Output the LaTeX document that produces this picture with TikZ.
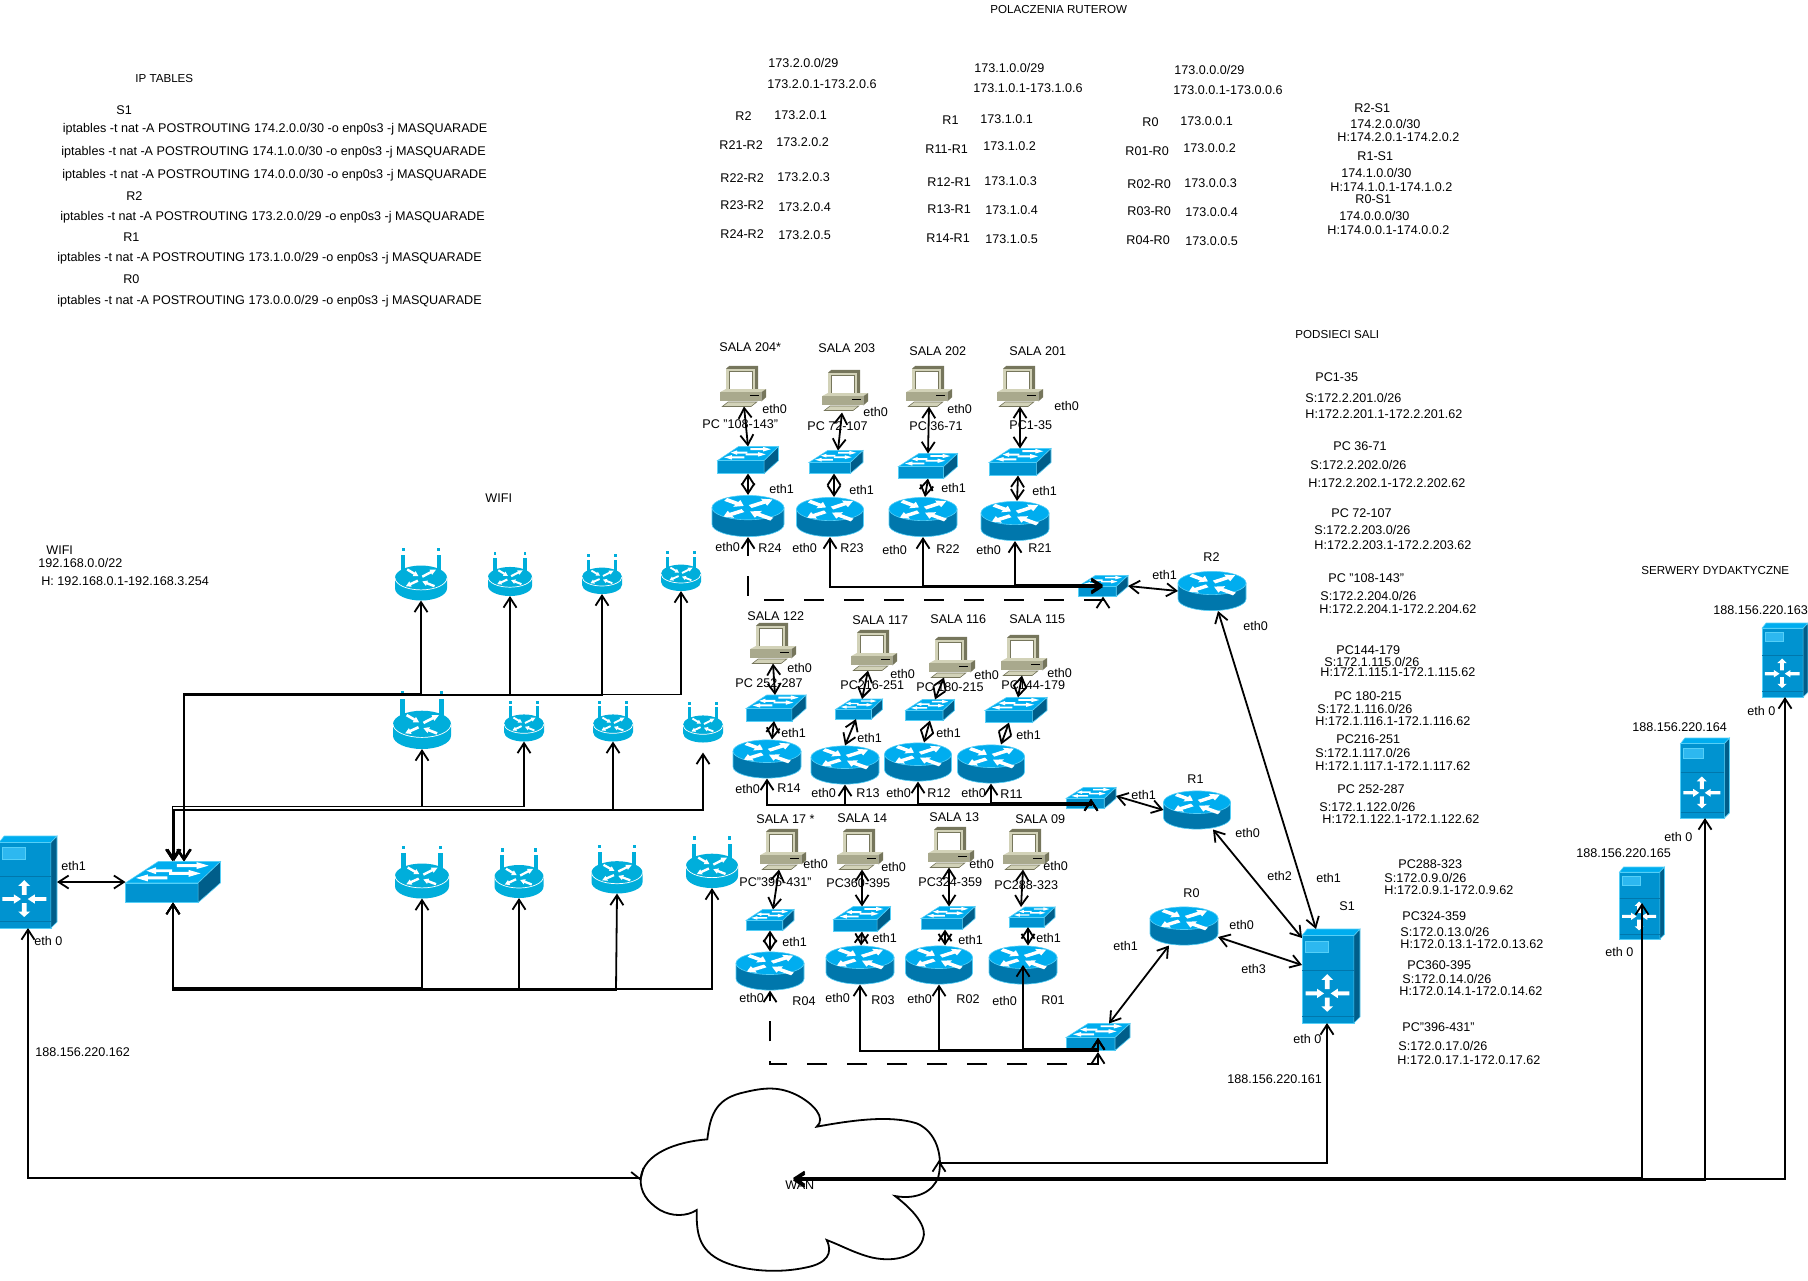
\documentclass[tikz,border=0pt]{standalone}
\usepackage{fontspec}
\setmainfont{Liberation Sans}
\usetikzlibrary{arrows.meta}
\definecolor{rtop}{HTML}{00ADEF}
\definecolor{rside}{HTML}{0077AC}
\definecolor{redge}{HTML}{55CFF7}
\definecolor{wblue}{HTML}{00AEDB}
\definecolor{sfront}{HTML}{0093D0}
\definecolor{sside}{HTML}{005E8A}
\definecolor{spanel}{HTML}{2DB8F0}
\definecolor{pclight}{HTML}{D2D2B8}
\definecolor{pcmid}{HTML}{A9A98D}
\definecolor{pcdark}{HTML}{76765C}
\tikzset{
    >={Straight Barb[length=5pt,width=6.5pt]},
    lk/.style={line width=0.9pt},
    busdash/.style={line width=0.9pt,dash pattern=on 10pt off 10pt},
    devbox/.style={inner sep=0pt,outer sep=0pt},
    txt/.style={anchor=west,inner sep=0pt,font=\fontsize{6.3}{7}\selectfont,text height=4.5pt,text depth=0pt},
    captxt/.style={txt,font=\fontsize{5.8}{7}\selectfont},
}
\newcommand{\icarrow}[5]{%
    \pgfmathsetmacro\anga{atan2(-((#4)-(#2)),(#3)-(#1))}%
    \pgfmathsetmacro\lena{veclen((#3)-(#1),(#4)-(#2))}%
    \pgfmathsetmacro\shaft{0.42*#5}%
    \fill[white,shift={(#1,#2)},rotate=\anga](0,-\shaft)--(0.62*\lena,-\shaft)--(0.62*\lena,-#5)--(\lena,0)--(0.62*\lena,#5)--(0.62*\lena,\shaft)--(0,\shaft)--cycle;}
% name, x, y, width, height
\newcommand{\router}[5]{%
    \node[devbox,minimum width=#4*0.5pt,minimum height=#5*0.5pt](#1)at(#2,#3){};
    \begin{scope}[shift={(#2,#3)},xscale=#4/2,yscale=#5/2]
    \filldraw[rside,draw=redge,line width=0.3pt](-1,-0.4)--(-1,0.4)..controls(-1,0.72)and(-0.55,0.98)..(0,0.98)..controls(0.55,0.98)and(1,0.72)..(1,0.4)--(1,-0.4)--cycle;
    \filldraw[rtop,draw=redge,line width=0.3pt](0,-0.4)ellipse[x radius=1,y radius=0.58];
    \icarrow{0.06}{-0.45}{0.68}{-0.79}{0.19}
    \icarrow{-0.14}{-0.26}{-0.68}{0.03}{0.19}
    \icarrow{0.66}{0.15}{0.06}{-0.22}{0.19}
    \icarrow{-0.62}{-0.79}{-0.12}{-0.48}{0.19}
    \end{scope}}
\newcommand{\wifi}[5]{%
    \node[devbox,minimum width=#4*0.5pt,minimum height=#5*0.5pt](#1)at(#2,#3){};
    \begin{scope}[shift={(#2,#3)},xscale=#4/2,yscale=#5/2]
    \fill[wblue](-0.76,-0.71)rectangle(-0.6,-0.15);
    \fill[wblue](0.6,-0.71)rectangle(0.76,-0.15);
    \fill[wblue](-0.74,-1)rectangle(-0.62,-0.85);
    \fill[wblue](0.62,-1)rectangle(0.74,-0.85);
    \fill[wblue](-1,0.14)--(-1,0.54)..controls(-1,0.8)and(-0.55,1)..(0,1)..controls(0.55,1)and(1,0.8)..(1,0.54)--(1,0.14)--cycle;
    \fill[wblue](0,0.14)ellipse[x radius=1,y radius=0.46];
    \draw[white,line width=0.35pt](-1,0.14)..controls(-1,0.4)and(-0.55,0.6)..(0,0.6)..controls(0.55,0.6)and(1,0.4)..(1,0.14);
    \icarrow{0.05}{0.1}{0.58}{-0.17}{0.11}
    \icarrow{-0.12}{0.25}{-0.58}{0.46}{0.11}
    \icarrow{0.52}{0.46}{0.05}{0.28}{0.11}
    \icarrow{-0.53}{-0.17}{-0.1}{0.08}{0.11}
    \end{scope}}
\newcommand{\switchb}[5]{%
    \node[devbox,minimum width=#4*0.5pt,minimum height=#5*0.5pt](#1)at(#2,#3){};
    \begin{scope}[shift={(#2,#3)},xscale=#4/2,yscale=#5/2]
    \filldraw[rtop,draw=redge,line width=0.3pt](-1,0.04)--(-0.31,-1)--(1,-1)--(0.53,0.04)--cycle;
    \filldraw[sfront,draw=redge,line width=0.3pt](-1,0.04)rectangle(0.53,1);
    \filldraw[sside,draw=redge,line width=0.3pt](0.53,0.04)--(1,-1)--(1,0.04)--(0.53,1)--cycle;
    \icarrow{0.08}{-0.8}{0.75}{-0.8}{0.17}
    \icarrow{-0.02}{-0.55}{-0.56}{-0.55}{0.17}
    \icarrow{-0.08}{-0.42}{0.58}{-0.42}{0.17}
    \icarrow{-0.12}{-0.2}{-0.78}{-0.2}{0.17}
    \end{scope}}
\newcommand{\server}[5]{%
    \node[devbox,minimum width=#4*0.5pt,minimum height=#5*0.5pt](#1)at(#2,#3){};
    \begin{scope}[shift={(#2,#3)},xscale=#4/2,yscale=#5/2]
    \filldraw[rtop,draw=redge,line width=0.3pt](-1,-0.86)--(-0.82,-1)--(1,-1)--(0.79,-0.86)--cycle;
    \filldraw[sfront,draw=redge,line width=0.3pt](-1,-0.86)rectangle(0.79,1);
    \filldraw[sside,draw=redge,line width=0.3pt](0.79,-0.86)--(1,-1)--(1,0.87)--(0.79,1)--cycle;
    \filldraw[spanel,draw=redge,line width=0.2pt](-0.88,-0.75)rectangle(-0.09,-0.5);
    \draw[rside,line width=0.4pt](-1,-0.13)--(0.79,-0.13);
    \draw[rside,line width=0.4pt](-1,0.86)--(0.79,0.86);
    \icarrow{-0.88}{0.37}{-0.24}{0.37}{0.1}
    \icarrow{0.63}{0.37}{-0.01}{0.37}{0.1}
    \icarrow{-0.13}{0.28}{-0.13}{-0.04}{0.2}
    \icarrow{-0.13}{0.46}{-0.13}{0.76}{0.2}
    \end{scope}}
\newcommand{\pcbox}[3]{%
    \node[devbox,minimum width=23pt,minimum height=20.5pt](#1)at(#2,#3){};
    \begin{scope}[shift={(#2,#3)},xscale=23,yscale=20.5]
    \fill[pcdark](-0.73,-0.85)--(-0.6,-0.98)--(0.66,-0.98)--(0.66,0.3)--(-0.73,0.3)--cycle;
    \fill[pclight](-0.73,-0.85)rectangle(0.52,0.3);
    \filldraw[white,draw=pcdark,line width=0.4pt](-0.6,-0.72)rectangle(0.42,0.2);
    \fill[pclight](-1,0.3)--(-0.75,0.15)--(1,0.15)--(0.8,0.3)--cycle;
    \fill[pcmid](-1,0.3)rectangle(0.8,0.75);
    \fill[pcdark](0.8,0.3)--(1,0.15)--(1,0.55)--(0.8,0.75)--cycle;
    \fill[black](0.3,0.42)rectangle(0.7,0.5);
    \filldraw[pclight,draw=pcdark,line width=0.3pt](-0.9,1)--(-0.65,0.78)--(0.6,0.78)--(0.35,1)--cycle;
    \end{scope}}
\begin{document}
\begin{tikzpicture}[x=0.5pt,y=-0.5pt]
    \useasboundingbox(0,0)rectangle(1808,1280);
    % sale 20x
    \pcbox{PC24}{743}{386}\pcbox{PC23}{845}{390}\pcbox{PC22}{929}{386}\pcbox{PC21}{1020}{386}
    \switchb{SW24}{748}{460}{61}{27}\switchb{SW23}{836}{462}{54}{23}\switchb{SW22}{928}{466}{59}{25}\switchb{SW21}{1020}{462}{62}{27}
    \router{R24}{748}{516}{72}{42}\router{R23}{830}{517}{67}{40}\router{R22}{923}{517}{68}{40}\router{R21}{1015}{521}{68}{40}
    \router{R2}{1212}{591}{68}{40}
    \switchb{SWR2}{1103}{586}{50}{21}
    % sale 11x
    \pcbox{PC14}{773}{643}\pcbox{PC13}{874}{650}\pcbox{PC12}{952}{657}\pcbox{PC11}{1024}{655}
    \switchb{SW14}{776}{708}{60}{26}\switchb{SW13}{859}{709}{47}{20}\switchb{SW12}{930}{710}{49}{21}\switchb{SW11}{1016}{710}{62}{25}
    \router{R14}{767}{759}{68}{39}\router{R13}{845}{765}{68}{39}\router{R12}{918}{762}{67}{39}\router{R11}{991}{764}{67}{39}
    \router{R1}{1197}{810}{67}{39}
    \switchb{SWR1}{1091}{798}{50}{21}
    % sale 0x
    \pcbox{PC04}{783}{849}\pcbox{PC03}{860}{849}\pcbox{PC02}{951}{847}\pcbox{PC01}{1026}{849}
    \switchb{SW04}{770}{920}{48}{21}\switchb{SW03}{862}{919}{57}{25}\switchb{SW02}{948}{918}{54}{23}\switchb{SW01}{1032}{917}{46}{20}
    \router{R04}{770}{971}{68}{39}\router{R03}{860}{965}{68}{39}\router{R02}{939}{965}{67}{39}\router{R01}{1023}{965}{68}{39}
    \router{R0}{1184}{926}{68}{39}
    \switchb{SWR0}{1098}{1037}{64}{27}
    % wifi
    \wifi{WA1}{421}{574}{52}{53}\wifi{WA2}{510}{574}{44}{44}\wifi{WA3}{602}{574}{40}{40}\wifi{WA4}{681}{571}{40}{40}
    \wifi{WB1}{422}{720}{58}{58}\wifi{WB2}{524}{721}{40}{41}\wifi{WB3}{613}{721}{40}{41}\wifi{WB4}{703}{722}{40}{41}
    \wifi{WC1}{422}{872}{54}{53}\wifi{WC2}{519}{873}{49}{50}\wifi{WC3}{617}{869}{51}{49}\wifi{WC4}{712}{862}{52}{52}
    \switchb{SWW}{173}{882}{95}{41}
    % serwery
    \server{SL}{28}{882}{58}{92}
    \server{S1}{1331}{976}{58}{94}
    \server{S2}{1785}{660}{46}{74}
    \server{S3}{1705}{778}{49}{80}
    \server{S4}{1642}{903}{45}{72}
    % chmura
    \begin{scope}[shift={(600,1060)},x=0.16667pt,y=-0.16667pt]
    \draw[lk](322,238)..controls(330,170)and(345,120)..(420,100)..controls(480,85)and(530,75)..(590,105)..controls(640,130)and(680,175)..(650,200)..controls(760,180)and(870,165)..(950,190)..controls(1010,215)and(1030,290)..(1015,350)..controls(1000,395)and(950,420)..(885,408)..controls(940,450)and(985,500)..(968,540)..controls(945,600)and(860,610)..(790,585)..controls(750,572)and(720,555)..(680,540)..controls(700,580)and(680,610)..(620,622)..controls(540,640)and(440,635)..(370,605)..controls(290,570)and(290,510)..(290,450)..controls(260,470)and(215,470)..(180,450)..controls(140,425)and(120,395)..(122,355)..controls(130,280)and(230,245)..(322,238)--cycle;
    \end{scope}
    \coordinate(wanc)at(793,1179);
    \coordinate(wanl)at(641,1181);
    \coordinate(wanr)at(939,1160);
    % polaczenia 20x
    \draw[<->,lk]([xshift=0.5pt]PC24.south)--(SW24.north);
    \draw[<->,lk]([xshift=-1.5pt,yshift=-1pt]PC23.south)--([xshift=1pt]SW23.north);
    \draw[<->,lk](PC22.south)--(SW22.north);
    \draw[<->,lk](PC21.south)--(SW21.north);
    \draw[<->,lk](SW24.south)--(R24.north);
    \draw[<->,lk]([xshift=-1pt]SW23.south)--([xshift=2pt]R23.north);
    \draw[<->,lk](SW22.south)--([xshift=1pt]R22.north);
    \draw[<->,lk]([xshift=-1pt]SW21.south)--([xshift=1pt]R21.north);
    \draw[<->,lk](SWR2.east)--(R2.west);
    \draw[<->,busdash](SWR2.south)|-(748,600)--(R24.south);
    \draw[<->,lk](R23.south)|-([yshift=-0.5pt]SWR2.center);
    \draw[<->,lk](R22.south)|-(SWR2.center);
    \draw[<->,lk](R21.south)|-([yshift=0.5pt]SWR2.center);
    % polaczenia 11x
    \draw[<->,lk](PC14.south)--([xshift=-0.5pt]SW14.north);
    \draw[<->,lk]([xshift=-3pt]PC13.south)--([xshift=1.5pt]SW13.north);
    \draw[<->,lk]([xshift=-4pt]PC12.south)--([xshift=2.5pt]SW12.north);
    \draw[<->,lk]([xshift=-1pt]PC11.south)--([xshift=1pt]SW11.north);
    \draw[<->,lk]([xshift=-1pt]SW14.south)--([xshift=2.5pt]R14.north);
    \draw[<->,lk]([xshift=-1.5pt]SW13.south)--(R13.north);
    \draw[<->,lk](SW12.south)--([xshift=3pt]R12.north);
    \draw[<->,lk]([xshift=-3.5pt]SW11.south)--([xshift=5pt]R11.north);
    \draw[<->,lk]([yshift=1pt]SWR1.east)--(R1.west);
    \draw[<->,lk](R14.south)|-(1091,805)--(1091,799);
    \draw[<->,lk](R13.south)|-(1091,804.5)--(1091,799);
    \draw[<->,lk](R12.south)|-(1091,804)--(1091,799);
    \draw[<->,lk](R11.south)|-(1091,803)--(1091,799);
    % polaczenia 0x
    \draw[<->,lk]([xshift=-2pt]PC04.south)--([xshift=1.5pt]SW04.north);
    \draw[<->,lk]([xshift=1pt]PC03.south)--(SW03.north);
    \draw[<->,lk]([xshift=-1pt]PC02.south)--([xshift=0.5pt]SW02.north);
    \draw[<->,lk]([xshift=-1.5pt]PC01.south)--([xshift=-5.5pt]SW01.north);
    \draw[<->,lk](SW04.south)--(R04.north);
    \draw[<->,lk](SW03.south)--([xshift=0.5pt]R03.north);
    \draw[<->,lk]([xshift=-1.5pt]SW02.south)--([xshift=3pt]R02.north);
    \draw[<->,lk]([xshift=-2pt]SW01.south)--([xshift=2.5pt]R01.north);
    \draw[<->,lk](R03.south)|-(1098,1051)--(1098,1038);
    \draw[<->,lk](R02.south)|-(1098,1049.5)--(1098,1038);
    \draw[<->,lk](R01.center)|-(1098,1049)--(1098,1038);
    \draw[<->,busdash](1098,1052)--(1098,1064)-|(R04.south);
    \draw[<->,lk]([xshift=-7.5pt]R0.south)--([xshift=5.5pt]SWR0.north);
    % S1
    \draw[<->,lk]([xshift=3pt]R2.south)--([xshift=-7.5pt]S1.north);
    \draw[<->,lk]([xshift=8pt]R1.south)--([yshift=-4.5pt]S1.north west);
    \draw[<->,lk]([yshift=-5.5pt]R0.east)--([yshift=5.5pt]S1.west);
    \draw[<->,lk]([xshift=-2pt]S1.south)|-(939,1163)--(wanr);
    % wifi
    \draw[<->,lk](SL.east)--(SWW.west);
    \draw[<->,lk](183.5,861)--(183.5,693.5)-|(WA1.south);
    \draw[<->,lk](184,861)--(184,694.5)-|(WA2.south);
    \draw[<->,lk](184.5,861)--(184.5,695.5)-|(WA3.south);
    \draw[<->,lk](184,861)--(184,694.5)-|(WA4.south);
    \draw[<->,lk](172.5,861)--(172.5,806.5)-|(WB1.south);
    \draw[<->,lk](172.5,861)--(172.5,806.5)-|(WB2.south);
    \draw[<->,lk](174,861)--(174,810)-|(WB3.south);
    \draw[<->,lk](174,861)--(174,810)-|([yshift=-5pt]WB4.south);
    \draw[<->,lk](SWW.south)|-(422,988)--(WC1.south);
    \draw[<->,lk](SWW.south)|-(519,989)--(WC2.south);
    \draw[<->,lk](SWW.south)|-(616,990)--(WC3.south);
    \draw[<->,lk](SWW.south)|-(712,989)--(WC4.south);
    % WAN
    \draw[<->,lk](SL.south)|-(640,1178)--(wanl);
    \draw[<->,lk](S4.center)|-([yshift=0.5pt]wanc);
    \draw[<->,lk](S3.south)|-([yshift=-0.7pt]wanc);
    \draw[<->,lk](S2.south)|-(wanc);
    % opisy
    \node[captxt](tIP)at(135,78){IP TABLES};
    \node[txt](tS1)at(116,110){S1};
    \node[txt](tI1)at(62.5,128){iptables -t nat -A POSTROUTING 174.2.0.0/30 -o enp0s3 -j MASQUARADE};
    \node[txt](tI2)at(61,151){iptables -t nat -A POSTROUTING 174.1.0.0/30 -o enp0s3 -j MASQUARADE};
    \node[txt](tI3)at(62,174){iptables -t nat -A POSTROUTING 174.0.0.0/30 -o enp0s3 -j MASQUARADE};
    \node[txt](tR2)at(126,196){R2};
    \node[txt](tI4)at(60,216){iptables -t nat -A POSTROUTING 173.2.0.0/29 -o enp0s3 -j MASQUARADE};
    \node[txt](tR1)at(123,237){R1};
    \node[txt](tI5)at(57,257){iptables -t nat -A POSTROUTING 173.1.0.0/29 -o enp0s3 -j MASQUARADE};
    \node[txt](tR0)at(123,279){R0};
    \node[txt](tI6)at(57,300){iptables -t nat -A POSTROUTING 173.0.0.0/29 -o enp0s3 -j MASQUARADE};
    \node[captxt](tPol)at(990,9){POLACZENIA RUTEROW};
    % kolumna R2
    \node[txt](a1)at(768,63){173.2.0.0/29};
    \node[txt](a2)at(767,84){173.2.0.1-173.2.0.6};
    \node[txt](a3)at(735,116){R2};
    \node[txt](a4)at(774,115){173.2.0.1};
    \node[txt](a5)at(719,145){R21-R2};
    \node[txt](a6)at(776,142){173.2.0.2};
    \node[txt](a7)at(720,178){R22-R2};
    \node[txt](a8)at(777,177){173.2.0.3};
    \node[txt](a9)at(720,205){R23-R2};
    \node[txt](a10)at(778,207){173.2.0.4};
    \node[txt](a11)at(720,234){R24-R2};
    \node[txt](a12)at(778,235){173.2.0.5};
    % kolumna R1
    \node[txt](b1)at(974,68){173.1.0.0/29};
    \node[txt](b2)at(973,88){173.1.0.1-173.1.0.6};
    \node[txt](b3)at(942,120){R1};
    \node[txt](b4)at(980,119){173.1.0.1};
    \node[txt](b5)at(925,149){R11-R1};
    \node[txt](b6)at(983,146){173.1.0.2};
    \node[txt](b7)at(927,182){R12-R1};
    \node[txt](b8)at(984,181){173.1.0.3};
    \node[txt](b9)at(927,209){R13-R1};
    \node[txt](b10)at(985,210){173.1.0.4};
    \node[txt](b11)at(926,238){R14-R1};
    \node[txt](b12)at(985,239){173.1.0.5};
    % kolumna R0
    \node[txt](c1)at(1174,70){173.0.0.0/29};
    \node[txt](c2)at(1173,90){173.0.0.1-173.0.0.6};
    \node[txt](c3)at(1142,122){R0};
    \node[txt](c4)at(1180,121){173.0.0.1};
    \node[txt](c5)at(1125,151){R01-R0};
    \node[txt](c6)at(1183,148){173.0.0.2};
    \node[txt](c7)at(1127,184){R02-R0};
    \node[txt](c8)at(1184,183){173.0.0.3};
    \node[txt](c9)at(1127,211){R03-R0};
    \node[txt](c10)at(1185,212){173.0.0.4};
    \node[txt](c11)at(1126,240){R04-R0};
    \node[txt](c12)at(1185,241){173.0.0.5};
    % kolumna S1
    \node[txt](d1)at(1354,108){R2-S1};
    \node[txt](d2)at(1350,124){174.2.0.0/30};
    \node[txt](d3)at(1337,137){H:174.2.0.1-174.2.0.2};
    \node[txt](d4)at(1357,156){R1-S1};
    \node[txt](d5)at(1341,173){174.1.0.0/30};
    \node[txt](d6)at(1330,187){H:174.1.0.1-174.1.0.2};
    \node[txt](d7)at(1355,199){R0-S1};
    \node[txt](d8)at(1339,216){174.0.0.0/30};
    \node[txt](d9)at(1327,230){H:174.0.0.1-174.0.0.2};
    % podsieci
    \node[captxt](tPod)at(1295,334){PODSIECI SALI};
    \node[txt](e1)at(1315,377){PC1-35};
    \node[txt](e2)at(1305,398){S:172.2.201.0/26};
    \node[txt](e3)at(1305,414){H:172.2.201.1-172.2.201.62};
    \node[txt](e4)at(1333,446){PC 36-71};
    \node[txt](e5)at(1310,465){S:172.2.202.0/26};
    \node[txt](e6)at(1308,483){H:172.2.202.1-172.2.202.62};
    \node[txt](e7)at(1331,513){PC 72-107};
    \node[txt](e8)at(1314,530){S:172.2.203.0/26};
    \node[txt](e9)at(1314,545){H:172.2.203.1-172.2.203.62};
    \node[txt](e10)at(1328,578){PC "108-143"};
    \node[txt](e11)at(1320,596){S:172.2.204.0/26};
    \node[txt](e12)at(1319,609){H:172.2.204.1-172.2.204.62};
    \node[txt](e13)at(1336,650){PC144-179};
    \node[txt](e14)at(1324,662){S:172.1.115.0/26};
    \node[txt](e15)at(1320,672){H:172.1.115.1-172.1.115.62};
    \node[txt](e16)at(1334,696){PC 180-215};
    \node[txt](e17)at(1317,709){S:172.1.116.0/26};
    \node[txt](e18)at(1315,721){H:172.1.116.1-172.1.116.62};
    \node[txt](e19)at(1336,739){PC216-251};
    \node[txt](e20)at(1315,753){S:172.1.117.0/26};
    \node[txt](e21)at(1315,766){H:172.1.117.1-172.1.117.62};
    \node[txt](e22)at(1337,789){PC 252-287};
    \node[txt](e23)at(1319,807){S:172.1.122.0/26};
    \node[txt](e24)at(1322,819){H:172.1.122.1-172.1.122.62};
    \node[txt](e25)at(1398,864){PC288-323};
    \node[txt](e26)at(1384,878){S:172.0.9.0/26};
    \node[txt](e27)at(1384,890){H:172.0.9.1-172.0.9.62};
    \node[txt](e28)at(1402,916){PC324-359};
    \node[txt](e29)at(1400,932){S:172.0.13.0/26};
    \node[txt](e30)at(1400,944){H:172.0.13.1-172.0.13.62};
    \node[txt](e31)at(1407,965){PC360-395};
    \node[txt](e32)at(1402,979){S:172.0.14.0/26};
    \node[txt](e33)at(1399,991){H:172.0.14.1-172.0.14.62};
    \node[txt](e34)at(1402,1027){PC"396-431"};
    \node[txt](e35)at(1398,1046){S:172.0.17.0/26};
    \node[txt](e36)at(1397,1060){H:172.0.17.1-172.0.17.62};
    % sale
    \node[txt](f1)at(719,347){SALA 204*};
    \node[txt](f2)at(818,348){SALA 203};
    \node[txt](f3)at(909,351){SALA 202};
    \node[txt](f4)at(1009,351){SALA 201};
    \node[txt](f5)at(747,616){SALA 122};
    \node[txt](f6)at(852,620){SALA 117};
    \node[txt](f7)at(930,619){SALA 116};
    \node[txt](f8)at(1009,619){SALA 115};
    \node[txt](f9)at(756,819){SALA 17 *};
    \node[txt](f10)at(837,818){SALA 14};
    \node[txt](f11)at(929,817){SALA 13};
    \node[txt](f12)at(1015,819){SALA 09};
    % PC
    \node[txt](g1)at(702,424){PC "108-143"};
    \node[txt](g2)at(807,426){PC 72-107};
    \node[txt](g3)at(909,426){PC 36-71};
    \node[txt](g4)at(1009,425){PC1-35};
    \node[txt](g5)at(735,683){PC 252-287};
    \node[txt](g6)at(840,685){PC216-251};
    \node[txt](g7)at(916,687){PC 180-215};
    \node[txt](g8)at(1001,685){PC144-179};
    \node[txt](g9)at(739,882){PC"396-431"};
    \node[txt](g10)at(826,883){PC360-395};
    \node[txt](g11)at(918,882){PC324-359};
    \node[txt](g12)at(994,885){PC288-323};
    % eth0 przy PC
    \node[txt](h1)at(762,409){eth0};
    \node[txt](h2)at(863,412){eth0};
    \node[txt](h3)at(947,409){eth0};
    \node[txt](h4)at(1054,406){eth0};
    \node[txt](h5)at(787,668){eth0};
    \node[txt](h6)at(890,674){eth0};
    \node[txt](h7)at(974,675){eth0};
    \node[txt](h8)at(1047,673){eth0};
    \node[txt](h9)at(803,864){eth0};
    \node[txt](h10)at(881,867){eth0};
    \node[txt](h11)at(969,864){eth0};
    \node[txt](h12)at(1043,866){eth0};
    % eth1
    \node[txt](i1)at(769,489){eth1};
    \node[txt](i2)at(849,490){eth1};
    \node[txt](i3)at(941,488){eth1};
    \node[txt](i4)at(1032,491){eth1};
    \node[txt](i5)at(781,733){eth1};
    \node[txt](i6)at(857,738){eth1};
    \node[txt](i7)at(936,733){eth1};
    \node[txt](i8)at(1016,735){eth1};
    \node[txt](i9)at(782,942){eth1};
    \node[txt](i10)at(872,938){eth1};
    \node[txt](i11)at(958,940){eth1};
    \node[txt](i12)at(1036,938){eth1};
    % eth0 i nazwy ruterow
    \node[txt](j1)at(715,547){eth0};
    \node[txt](j2)at(792,548){eth0};
    \node[txt](j3)at(882,550){eth0};
    \node[txt](j4)at(976,550){eth0};
    \node[txt](j5)at(735,789){eth0};
    \node[txt](j6)at(811,793){eth0};
    \node[txt](j7)at(886,793){eth0};
    \node[txt](j8)at(961,793){eth0};
    \node[txt](j9)at(739,998){eth0};
    \node[txt](j10)at(825,998){eth0};
    \node[txt](j11)at(907,999){eth0};
    \node[txt](j12)at(992,1001){eth0};
    \node[txt](k1)at(758,548){R24};
    \node[txt](k2)at(840,548){R23};
    \node[txt](k3)at(936,549){R22};
    \node[txt](k4)at(1028,548){R21};
    \node[txt](k5)at(777,788){R14};
    \node[txt](k6)at(856,793){R13};
    \node[txt](k7)at(927,793){R12};
    \node[txt](k8)at(1000,794){R11};
    \node[txt](k9)at(792,1001){R04};
    \node[txt](k10)at(871,1000){R03};
    \node[txt](k11)at(956,999){R02};
    \node[txt](k12)at(1041,1000){R01};
    % R2, R1, R0, S1
    \node[txt](m1)at(1203,557){R2};
    \node[txt](m2)at(1152,575){eth1};
    \node[txt](m3)at(1243,626){eth0};
    \node[txt](m4)at(1187,779){R1};
    \node[txt](m5)at(1131,795){eth1};
    \node[txt](m6)at(1235,833){eth0};
    \node[txt](m7)at(1183,893){R0};
    \node[txt](m8)at(1113,946){eth1};
    \node[txt](m9)at(1229,925){eth0};
    \node[txt](m10)at(1241,969){eth3};
    \node[txt](m11)at(1267,876){eth2};
    \node[txt](m12)at(1316,878){eth1};
    \node[txt](m13)at(1339,906){S1};
    \node[txt](m14)at(1293,1039){eth 0};
    \node[txt](m15)at(1227,1079){188.156.220.161};
    % serwery
    \node[captxt](n1)at(1641,570){SERWERY DYDAKTYCZNE};
    \node[txt](n2)at(1713,610){188.156.220.163};
    \node[txt](n3)at(1747,711){eth 0};
    \node[txt](n4)at(1632,727){188.156.220.164};
    \node[txt](n5)at(1664,837){eth 0};
    \node[txt](n6)at(1576,853){188.156.220.165};
    \node[txt](n7)at(1605,952){eth 0};
    % wifi
    \node[txt](o1)at(485,498){WIFI};
    \node[txt](o2)at(46,550){WIFI};
    \node[txt](o3)at(38,563){192.168.0.0/22};
    \node[txt](o4)at(41,581){H: 192.168.0.1-192.168.3.254};
    \node[txt](o5)at(61,866){eth1};
    \node[txt](o6)at(34,941){eth 0};
    \node[txt](o7)at(35,1052){188.156.220.162};
    \node[txt](o8)at(785,1185){WAN};
\end{tikzpicture}
\end{document}
